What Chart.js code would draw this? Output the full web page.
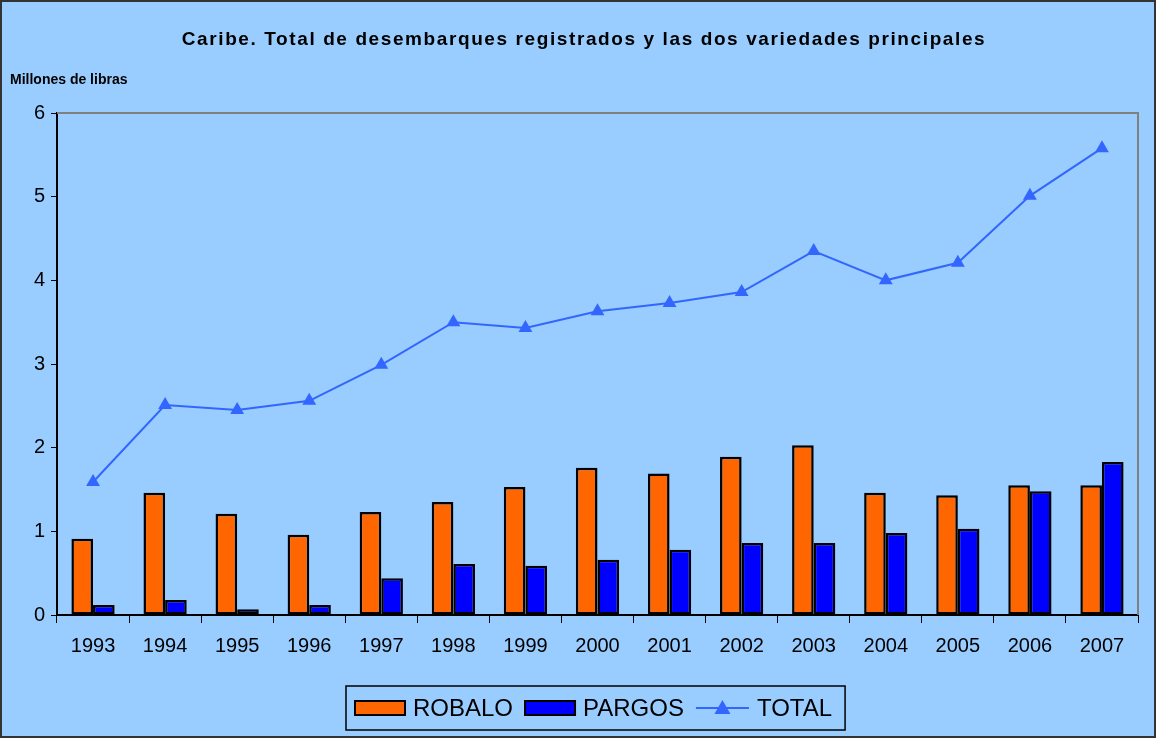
<!DOCTYPE html>
<html>
<head>
<meta charset="utf-8">
<script src="https://cdn.jsdelivr.net/npm/chart.js@4/dist/chart.umd.min.js"></script>
<style>
html,body{margin:0;padding:0;background:#99CCFF;}
#wrap{width:1156px;height:738px;position:relative;}
canvas{display:block;}
</style>
</head>
<body>
<div id="wrap"><canvas id="c" width="1156" height="738"></canvas></div>
<script>
const chartTitle = 'Caribe. Total de desembarques registrados y las dos variedades principales';
const yAxisLabel = 'Millones de libras';
const categories = ['1993','1994','1995','1996','1997','1998','1999','2000','2001','2002','2003','2004','2005','2006','2007'];
const robalo = [0.91,1.46,1.21,0.96,1.23,1.35,1.53,1.76,1.69,1.89,2.03,1.46,1.43,1.55,1.55];
const pargos = [0.12,0.18,0.07,0.12,0.44,0.61,0.59,0.66,0.78,0.86,0.86,0.98,1.03,1.48,1.83];
const total  = [1.59,2.51,2.45,2.56,2.99,3.50,3.43,3.63,3.73,3.86,4.35,4.00,4.21,5.01,5.58];
const yTicks = [0,1,2,3,4,5,6];

const FONT = 'Arial, "Liberation Sans", sans-serif';

const decor = {
  id: 'decor',
  beforeDraw(chart) {
    const ctx = chart.ctx;
    ctx.save();
    ctx.fillStyle = '#99CCFF';
    ctx.fillRect(0, 0, chart.width, chart.height);
    ctx.restore();
  },
  afterDraw(chart) {
    const ctx = chart.ctx;
    const a = chart.chartArea;
    ctx.save();
    ctx.strokeStyle = '#808080';
    ctx.lineWidth = 2;
    ctx.beginPath();
    ctx.moveTo(a.left, a.top);
    ctx.lineTo(a.right, a.top);
    ctx.lineTo(a.right, a.bottom);
    ctx.stroke();
    ctx.strokeStyle = '#333333';
    ctx.lineWidth = 2;
    ctx.strokeRect(1, 1, chart.width - 2, chart.height - 2);
    ctx.fillStyle = '#000';
    ctx.font = 'bold 19px ' + FONT;
    ctx.textAlign = 'center';
    ctx.textBaseline = 'middle';
    try { ctx.letterSpacing = '1.6px'; } catch(e) {}
    ctx.fillText(chartTitle, 584, 40);
    try { ctx.letterSpacing = '0px'; } catch(e) {}
    ctx.font = 'bold 14px ' + FONT;
    ctx.textAlign = 'left';
    ctx.fillText(yAxisLabel, 10, 80);

    const ds = chart.data.datasets;
    ctx.font = '24px ' + FONT;
    const padL = 9, rectW = 50, rectH = 14, gapT = 8, gapItem = 12, lineW = 53, padR = 13;
    let w = padL;
    ds.forEach((d, i) => {
      w += (d.type === 'line' ? lineW : rectW) + gapT + ctx.measureText(d.label).width;
      if (i < ds.length - 1) w += gapItem;
    });
    w += padR;
    const bx = Math.round(596 - w / 2), by = 686, bh = 44, cy = 708;
    ctx.fillStyle = '#99CCFF';
    ctx.fillRect(bx, by, w, bh);
    ctx.strokeStyle = '#000';
    ctx.lineWidth = 1.5;
    ctx.strokeRect(bx, by, w, bh);
    let x = bx + padL;
    ds.forEach((d, i) => {
      if (d.type === 'line') {
        ctx.strokeStyle = d.borderColor;
        ctx.lineWidth = 2;
        ctx.beginPath();
        ctx.moveTo(x, cy); ctx.lineTo(x + lineW, cy); ctx.stroke();
        const tx = x + lineW / 2;
        ctx.fillStyle = d.backgroundColor;
        ctx.beginPath();
        ctx.moveTo(tx, cy - 8); ctx.lineTo(tx + 8, cy + 6); ctx.lineTo(tx - 8, cy + 6); ctx.closePath();
        ctx.fill();
        x += lineW + gapT;
      } else {
        ctx.fillStyle = d.backgroundColor;
        ctx.fillRect(x, cy - rectH / 2, rectW, rectH);
        ctx.strokeStyle = '#000';
        ctx.lineWidth = 2;
        ctx.strokeRect(x, cy - rectH / 2, rectW, rectH);
        x += rectW + gapT;
      }
      ctx.fillStyle = '#000';
      ctx.textAlign = 'left';
      ctx.textBaseline = 'middle';
      ctx.fillText(d.label, x, cy + 1);
      x += ctx.measureText(d.label).width + gapItem;
    });
    ctx.restore();
  }
};

new Chart(document.getElementById('c'), {
  type: 'bar',
  data: {
    labels: categories,
    datasets: [
      { type: 'bar', label: 'ROBALO', data: robalo, backgroundColor: '#FF6600', borderColor: '#000', borderWidth: 2.5, borderSkipped: false, categoryPercentage: 0.6, barPercentage: 1.0, order: 2 },
      { type: 'bar', label: 'PARGOS', data: pargos, backgroundColor: '#0000FF', borderColor: '#000', borderWidth: 2.5, borderSkipped: false, categoryPercentage: 0.6, barPercentage: 1.0, order: 2 },
      { type: 'line', label: 'TOTAL', data: total, borderColor: '#3366FF', backgroundColor: '#3366FF', borderWidth: 2, pointStyle: 'triangle', pointRadius: 8, pointBorderWidth: 0, pointHoverRadius: 8, tension: 0, order: 1 }
    ]
  },
  options: {
    responsive: false,
    animation: false,
    devicePixelRatio: 1,
    layout: { padding: { left: 0, right: 18, top: 113, bottom: 73 } },
    plugins: { legend: { display: false }, title: { display: false }, tooltip: { enabled: false } },
    scales: {
      x: {
        grid: { display: true, drawOnChartArea: false, drawTicks: true, tickLength: 8, color: '#000', offset: true },
        border: { display: true, color: '#000', width: 2 },
        ticks: { color: '#000', font: { family: FONT, size: 20 }, padding: 11, maxRotation: 0, autoSkip: false },
        afterFit(s) { s.height = 50; }
      },
      y: {
        min: 0, max: 6,
        afterBuildTicks(s) { s.ticks = yTicks.map(v => ({ value: v })); },
        grid: { display: true, drawOnChartArea: false, drawTicks: true, tickLength: 6, color: '#000' },
        border: { display: true, color: '#000', width: 2 },
        ticks: { color: '#000', font: { family: FONT, size: 20 }, padding: 6 },
        afterFit(s) { s.width = 57; }
      }
    }
  },
  plugins: [decor]
});
</script>
</body>
</html>
